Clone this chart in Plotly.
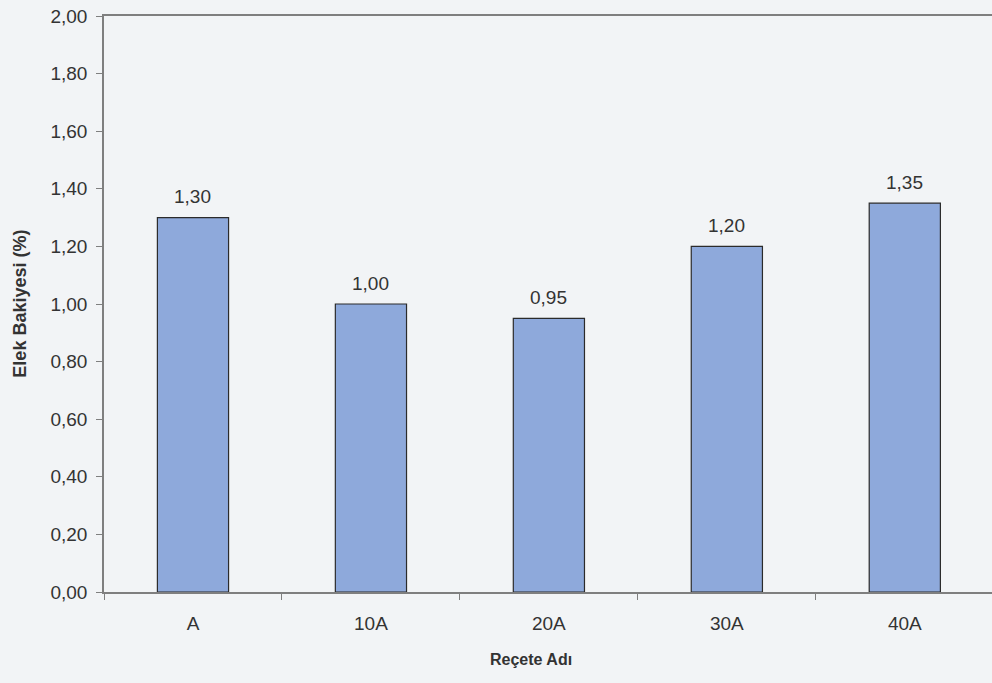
import plotly.graph_objects as go

categories = ["A", "10A", "20A", "30A", "40A"]
values = [1.30, 1.00, 0.95, 1.20, 1.35]
labels = ["1,30", "1,00", "0,95", "1,20", "1,35"]
y_ticks = [0.0, 0.2, 0.4, 0.6, 0.8, 1.0, 1.2, 1.4, 1.6, 1.8, 2.0]

FONT = "Liberation Sans, Arial, sans-serif"
TXT = "#333333"

fig = go.Figure()
fig.add_trace(go.Bar(
    x=categories, y=values,
    marker=dict(color="#8EA9DB", line=dict(color="#2b2b2b", width=1.2)),
    width=0.4,
    hoverinfo="skip",
))

for c, v, t in zip(categories, values, labels):
    fig.add_annotation(x=c, y=v, text=t, showarrow=False, yanchor="middle",
                       yshift=21, font=dict(family=FONT, size=19, color=TXT))

fig.add_annotation(xref="paper", yref="paper", x=-0.095, y=0.5,
                   text="<b>Elek Bakiyesi (%)</b>", textangle=-90, showarrow=False,
                   xanchor="center", yanchor="middle",
                   font=dict(family=FONT, size=18, color=TXT))
fig.add_annotation(xref="paper", yref="paper", x=0.481, y=-0.117,
                   text="<b>Reçete Adı</b>", showarrow=False,
                   xanchor="center", yanchor="middle",
                   font=dict(family=FONT, size=16, color=TXT))

fig.update_layout(
    width=992, height=683,
    margin=dict(l=104, r=0, t=16, b=91),
    paper_bgcolor="#F2F4F6",
    plot_bgcolor="#F2F4F6",
    separators=",.",
    showlegend=False,
    font=dict(family=FONT, size=19, color=TXT),
)
fig.update_xaxes(
    type="category", range=[-0.5, 4.49],
    showline=True, linecolor="#7f7f7f", linewidth=1.5, mirror=True,
    ticks="outside", ticklen=6, tickcolor="#7f7f7f", tickson="boundaries",
    ticklabelstandoff=13,
    showgrid=False, tickfont=dict(family=FONT, size=19, color=TXT),
)
fig.update_yaxes(
    range=[0, 2.0], tickvals=y_ticks, tickformat=".2f",
    showline=True, linecolor="#7f7f7f", linewidth=1.5,
    ticks="outside", ticklen=6, tickcolor="#7f7f7f",
    ticklabelstandoff=5,
    showgrid=False, zeroline=False, tickfont=dict(family=FONT, size=19, color=TXT),
)

fig.write_html("out.html")
